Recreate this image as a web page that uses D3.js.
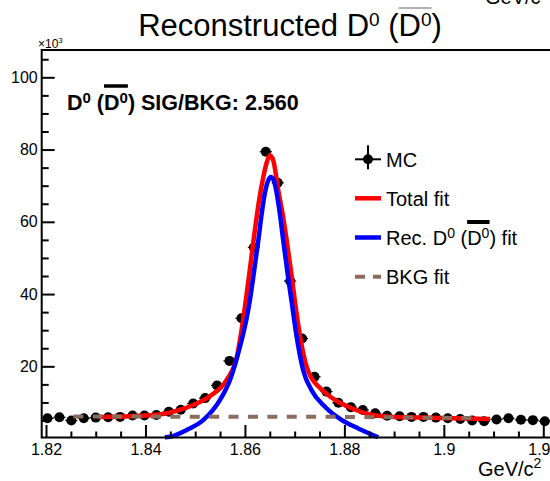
<!DOCTYPE html>
<html>
<head>
<meta charset="utf-8">
<script src="https://cdn.jsdelivr.net/npm/d3@7"></script>
<style>
  html, body { margin: 0; padding: 0; background: #fff; }
  svg { display: block; font-family: "Liberation Sans", Arial, Helvetica, sans-serif; }
</style>
</head>
<body>
<svg id="chart" width="550" height="481"></svg>
<script>
// MC histogram: bin centres (GeV/c^2) and entries (x10^3)
const massBins = [
  1.8203, 1.8227, 1.8251, 1.8276, 1.8300, 1.8325, 1.8349, 1.8374, 1.8398, 1.8422,
  1.8447, 1.8471, 1.8496, 1.8520, 1.8544, 1.8569, 1.8593, 1.8618, 1.8642, 1.8666,
  1.8691, 1.8715, 1.8740, 1.8764, 1.8788, 1.8813, 1.8837, 1.8862, 1.8886, 1.8911,
  1.8935, 1.8959, 1.8984, 1.9008, 1.9033, 1.9057, 1.9081, 1.9106, 1.9130, 1.9155,
  1.9179, 1.9203
];
const mcCounts = [
  5.6, 5.9, 5.0, 5.6, 5.8, 5.9, 6.0, 6.4, 6.4, 6.5,
  7.4, 8.0, 9.7, 11.2, 14.7, 21.5, 33.3, 52.9, 79.4, 70.8,
  43.6, 27.7, 17.1, 13.0, 9.9, 8.7, 7.9, 7.0, 6.3, 6.2,
  6.0, 6.0, 5.8, 5.6, 5.4, 5.0, 4.8, 5.3, 5.6, 5.2,
  5.1, 4.8
];

// Total fit (signal + background), sampled along the curve
const totalFitMass = [
  1.8306, 1.8349, 1.8389, 1.8435, 1.8463, 1.8496, 1.8530, 1.8563, 1.8584, 1.8592,
  1.8602, 1.8611, 1.8620, 1.8628, 1.8637, 1.8644, 1.8650, 1.8657, 1.8667, 1.8676,
  1.8684, 1.8693, 1.8701, 1.8711, 1.8724, 1.8735, 1.8748, 1.8781, 1.8815, 1.8848,
  1.8882, 1.8902, 1.8952, 1.9022, 1.9093
];
const totalFitVals = [
  6.0, 6.05, 6.3, 6.8, 7.7, 9.3, 11.8, 16.2, 22.7, 29.0,
  38.5, 48.0, 57.7, 65.5, 72.4, 76.5, 78.4, 77.0, 68.8, 62.0,
  54.9, 46.0, 37.5, 28.2, 19.9, 16.5, 14.4, 10.7, 8.4, 6.8,
  6.1, 6.0, 5.8, 5.6, 5.4
];

// Reconstructed D0 signal fit
const sigFitMass = [
  1.8439, 1.8449, 1.8483, 1.8516, 1.8550, 1.8570, 1.8590, 1.8604, 1.8610, 1.8616,
  1.8627, 1.8634, 1.8640, 1.8647, 1.8652, 1.8658, 1.8664, 1.8670, 1.8677, 1.8686,
  1.8694, 1.8704, 1.8717, 1.8734, 1.8761, 1.8795, 1.8828, 1.8868
];
const sigFitVals = [
  0.35, 0.5, 2.4, 5.1, 10.7, 16.2, 25.4, 33.7, 38.3, 44.0,
  54.9, 62.5, 67.9, 71.5, 72.4, 71.5, 67.9, 62.5, 54.9, 45.5,
  37.8, 28.2, 19.0, 13.4, 8.8, 5.1, 2.8, 0.35
];

// Background fit
const bkgFitMass = [1.8255, 1.8450, 1.8650, 1.8800, 1.8950, 1.9073];
const bkgFitVals = [6.1, 6.07, 6.05, 6.0, 5.8, 5.65];

// Axis ticks
const xMajorTicks = [1.82, 1.84, 1.86, 1.88, 1.90, 1.92];
const xMajorLabels = ["1.82", "1.84", "1.86", "1.88", "1.9", "1.92"];
const xMinorTicks = [1.825, 1.83, 1.835, 1.845, 1.85, 1.855, 1.865, 1.87, 1.875,
                     1.885, 1.89, 1.895, 1.905, 1.91, 1.915];
const yMajorTicks = [20, 40, 60, 80, 100];
const yMinorTicks = [5, 10, 15, 25, 30, 35, 45, 50, 55, 65, 70, 75, 85, 90, 95, 105];

// Texts (segments: sup = superscript, bar = overlined)
const titleParts = [{t: "Reconstructed D"}, {t: "0", sup: 1}, {t: " ("}, {t: "D", bar: 1}, {t: "0", sup: 1, bar: 1}, {t: ")"}];
const ratioParts = [{t: "D"}, {t: "0", sup: 1}, {t: " ("}, {t: "D", bar: 1}, {t: "0", sup: 1, bar: 1}, {t: ") SIG/BKG: 2.560"}];
const legendLabels = [
  [{t: "MC"}],
  [{t: "Total fit"}],
  [{t: "Rec. D"}, {t: "0", sup: 1}, {t: " ("}, {t: "D", bar: 1}, {t: "0", sup: 1, bar: 1}, {t: ") fit"}],
  [{t: "BKG fit"}]
];
const axisUnitParts = [{t: "GeV/c"}, {t: "2", sup: 1}];

const svg = d3.select("#chart");

const plotLeft = 41.7, plotTop = 50, plotBottom = 437.5, plotRight = 560;
const x = d3.scaleLinear().domain([1.82, 1.92]).range([46, 543.3]);
const y = d3.scaleLinear().domain([0.24, 107.56]).range([437.7, 50]);

const colRed = "#ff0000", colBlue = "#0000ff", colBrown = "#8a6d5e";

// Writes a text made of segments with superscripts and overlines
function richText(parent, parts, px, py, size, opt) {
  const o = Object.assign({supSize: size * 0.7, supShift: size * 0.38, anchor: "start",
                           weight: "normal", barOffset: size * 1.17, barWidth: 3.5, barColor: "#000"}, opt || {});
  const t = parent.append("text")
    .attr("x", px).attr("y", py)
    .attr("text-anchor", o.anchor)
    .style("font-size", size + "px")
    .style("font-weight", o.weight)
    .attr("fill", "#000");
  let raised = false;
  const spans = parts.map(p => {
    const s = t.append("tspan").text(p.t);
    if (p.sup) {
      s.style("font-size", o.supSize + "px");
      if (!raised) { s.attr("dy", -o.supShift); raised = true; }
    } else if (raised) {
      s.attr("dy", o.supShift); raised = false;
    }
    return s;
  });
  const barred = spans.filter((s, i) => parts[i].bar);
  if (barred.length) {
    let x0 = Infinity, x1 = -Infinity;
    barred.forEach(s => { const b = s.node().getBBox(); x0 = Math.min(x0, b.x); x1 = Math.max(x1, b.x + b.width); });
    parent.append("line")
      .attr("x1", x0).attr("x2", x1)
      .attr("y1", py - o.barOffset).attr("y2", py - o.barOffset)
      .attr("stroke", o.barColor).attr("stroke-width", o.barWidth);
  }
  return t;
}

// ---- data points (drawn first, fits go on top)
const binHalf = (massBins[massBins.length - 1] - massBins[0]) / (massBins.length - 1) / 2;
const pts = svg.append("g");
pts.selectAll("line.xerr").data(massBins).join("line")
  .attr("x1", (d) => x(d - binHalf)).attr("x2", (d) => x(d + binHalf))
  .attr("y1", (d, i) => y(mcCounts[i])).attr("y2", (d, i) => y(mcCounts[i]))
  .attr("stroke", "#000").attr("stroke-width", 1.2);
pts.selectAll("circle").data(massBins).join("circle")
  .attr("cx", d => x(d)).attr("cy", (d, i) => y(mcCounts[i]))
  .attr("r", 5).attr("fill", "#000");

// ---- fit curves
const line = d3.line().x(d => x(d[0])).y(d => y(d[1])).curve(d3.curveMonotoneX);
const zip = (a, b) => a.map((v, i) => [v, b[i]]);

svg.append("path").datum(zip(totalFitMass, totalFitVals))
  .attr("d", line).attr("fill", "none").attr("stroke", colRed).attr("stroke-width", 4.5);
svg.append("path").datum(zip(sigFitMass, sigFitVals))
  .attr("d", line).attr("fill", "none").attr("stroke", colBlue).attr("stroke-width", 4.5);
svg.append("path").datum(zip(bkgFitMass, bkgFitVals))
  .attr("d", line).attr("fill", "none").attr("stroke", colBrown).attr("stroke-width", 4)
  .attr("stroke-dasharray", "10,9.4");

// ---- axes (major and minor ticks in separate groups)
svg.append("g").attr("transform", `translate(0,${plotBottom})`)
  .call(d3.axisBottom(x).tickValues(xMajorTicks).tickFormat((d, i) => xMajorLabels[i])
    .tickSizeInner(-12.5).tickSizeOuter(0).tickPadding(6));
svg.append("g").attr("transform", `translate(0,${plotBottom})`)
  .call(d3.axisBottom(x).tickValues(xMinorTicks).tickFormat("").tickSizeInner(-6).tickSizeOuter(0));

svg.append("g").attr("transform", `translate(${plotLeft},0)`)
  .call(d3.axisLeft(y).tickValues(yMajorTicks).tickSizeInner(-13).tickSizeOuter(0).tickPadding(4));
svg.append("g").attr("transform", `translate(${plotLeft},0)`)
  .call(d3.axisLeft(y).tickValues(yMinorTicks).tickFormat("").tickSizeInner(-7).tickSizeOuter(0));

svg.selectAll(".domain").remove();
svg.selectAll(".tick line").attr("stroke", "#000").attr("stroke-width", 2);
svg.selectAll(".tick text").attr("fill", "#000")
  .style("font-size", "16px").style("font-family", "'Liberation Sans', Arial, sans-serif");

// frame
const frame = svg.append("g").attr("stroke", "#000").attr("stroke-width", 2).attr("fill", "none");
frame.append("line").attr("x1", plotLeft).attr("x2", plotRight).attr("y1", plotTop).attr("y2", plotTop);
frame.append("line").attr("x1", plotLeft).attr("x2", plotLeft).attr("y1", plotTop - 1).attr("y2", plotBottom + 1);
frame.append("line").attr("x1", plotLeft).attr("x2", plotRight).attr("y1", plotBottom).attr("y2", plotBottom);

// ---- texts
richText(svg, titleParts, 290, 36, 31, {anchor: "middle", supSize: 19, supShift: 10, barOffset: 28, barWidth: 1, barColor: "#666"});
richText(svg, [{t: "\u00d710"}, {t: "3", sup: 1}], 38, 48, 12, {supSize: 8, supShift: 5});
richText(svg, ratioParts, 67, 110, 21.5, {weight: "bold", supSize: 15, supShift: 7.5, barOffset: 24, barWidth: 3.5});
richText(svg, axisUnitParts, 478, 476, 20, {supSize: 14, supShift: 8});
richText(svg, axisUnitParts, 485, 4, 20, {supSize: 14, supShift: 8});

// ---- legend
const legX0 = 355, legX1 = 381, legText = 386;
const legRows = [159.3, 198.3, 237.5, 276.7];
const leg = svg.append("g");
// MC marker
leg.append("line").attr("x1", legX0).attr("x2", legX1).attr("y1", legRows[0]).attr("y2", legRows[0])
  .attr("stroke", "#000").attr("stroke-width", 2);
leg.append("line").attr("x1", (legX0 + legX1) / 2).attr("x2", (legX0 + legX1) / 2)
  .attr("y1", legRows[0] - 14).attr("y2", legRows[0] + 10).attr("stroke", "#000").attr("stroke-width", 2);
leg.append("circle").attr("cx", (legX0 + legX1) / 2).attr("cy", legRows[0]).attr("r", 5).attr("fill", "#000");
// fit lines
leg.append("line").attr("x1", legX0).attr("x2", legX1).attr("y1", legRows[1]).attr("y2", legRows[1])
  .attr("stroke", colRed).attr("stroke-width", 4.5);
leg.append("line").attr("x1", legX0).attr("x2", legX1).attr("y1", legRows[2]).attr("y2", legRows[2])
  .attr("stroke", colBlue).attr("stroke-width", 4.5);
leg.append("line").attr("x1", legX0).attr("x2", legX1).attr("y1", legRows[3]).attr("y2", legRows[3])
  .attr("stroke", colBrown).attr("stroke-width", 4).attr("stroke-dasharray", "10,8");
legendLabels.forEach((parts, i) => {
  richText(leg, parts, legText, legRows[i] + 7.5, 20, {supSize: 14, supShift: 7, barOffset: 23, barWidth: 4});
});
</script>
</body>
</html>
